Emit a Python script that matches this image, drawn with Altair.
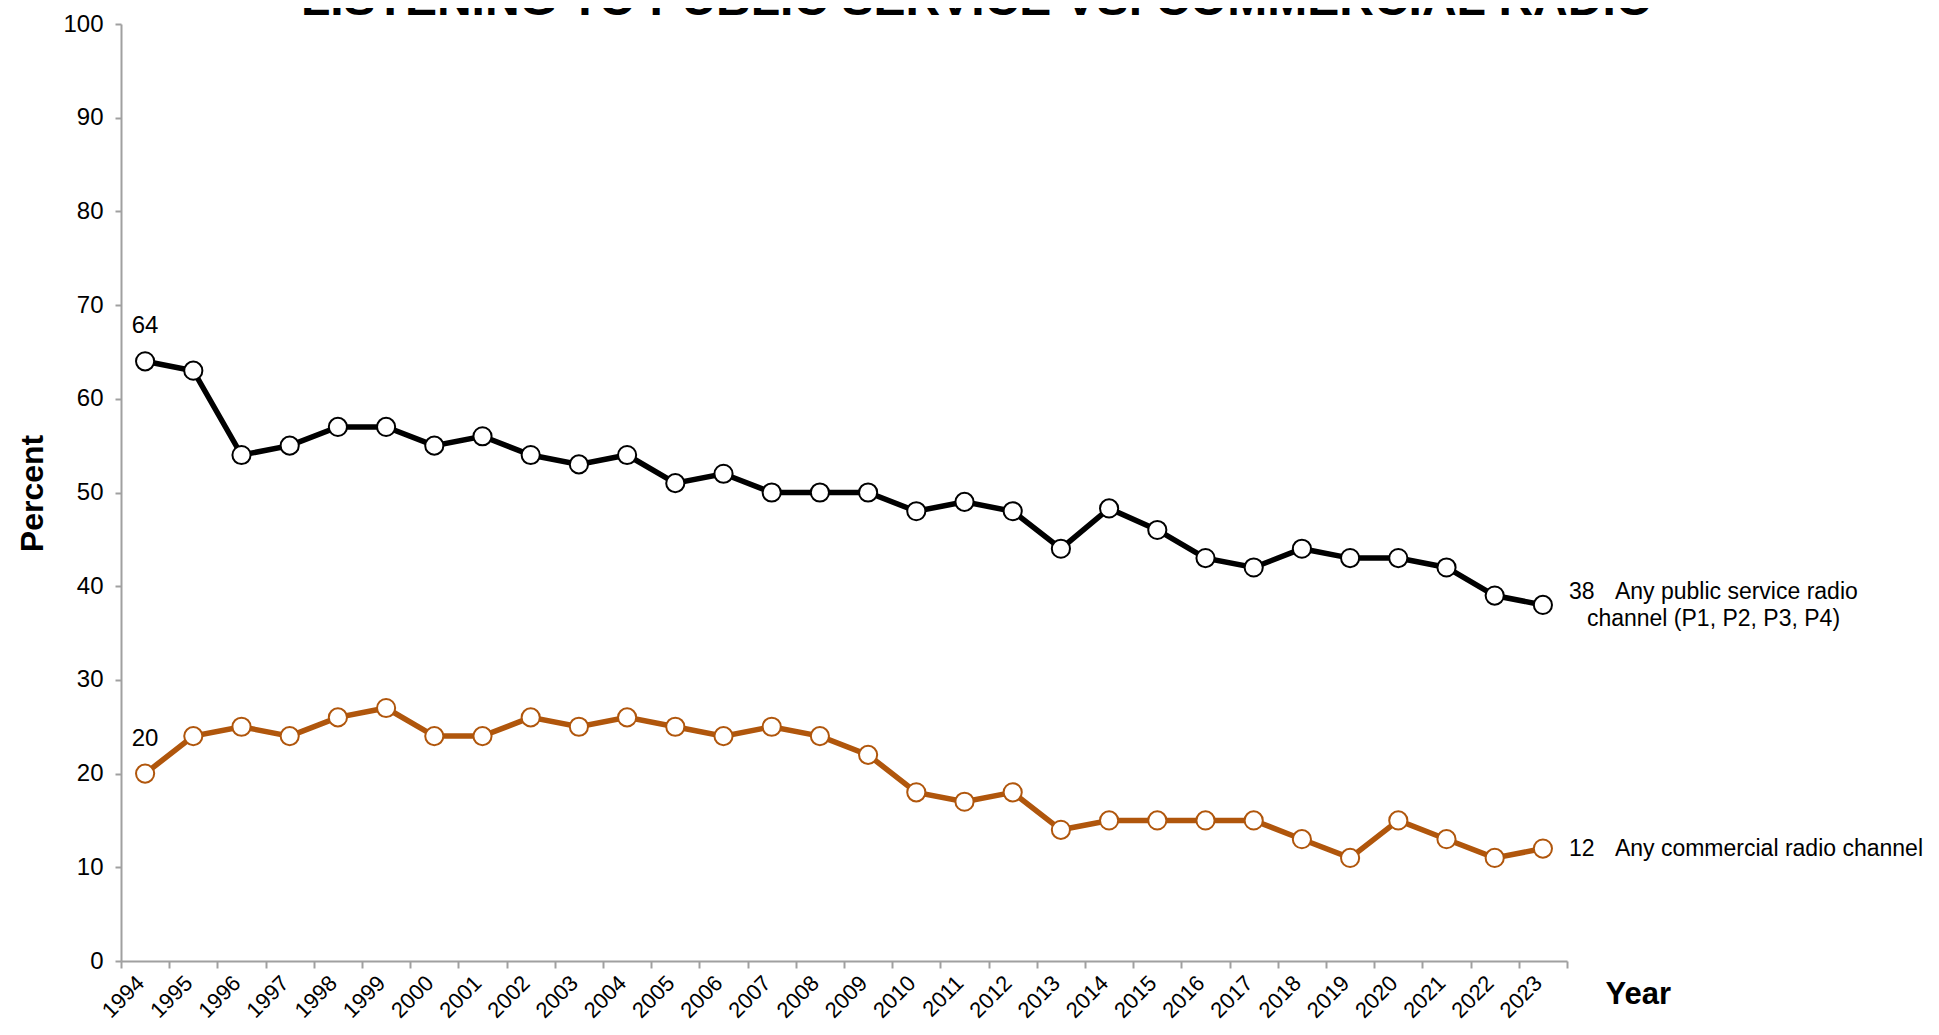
import altair as alt
import pandas as pd

years = list(range(1994, 2024))
public = [64, 63, 54, 55, 57, 57, 55, 56, 54, 53, 54, 51, 52, 50, 50, 50, 48, 49, 48, 44,
          48.3, 46, 43, 42, 44, 43, 43, 42, 39, 38]
commercial = [20, 24, 25, 24, 26, 27, 24, 24, 26, 25, 26, 25, 24, 25, 24, 22, 18, 17, 18, 14,
              15, 15, 15, 15, 13, 11, 15, 13, 11, 12]
series_names = ["Public service", "Commercial"]
series_colors = ["#000000", "#B0560C"]
title_text = "LISTENING TO PUBLIC SERVICE VS. COMMERCIAL RADIO"
y_ticks = list(range(0, 101, 10))

rows = []
for y, p, c in zip(years, public, commercial):
    rows.append({"year": y, "value": p, "series": series_names[0]})
    rows.append({"year": y, "value": c, "series": series_names[1]})
df = pd.DataFrame(rows)

FONT = "Liberation Sans, Arial, sans-serif"
NARROW = "'Liberation Sans Narrow', 'Arial Narrow', 'Liberation Sans', sans-serif"
AXC = "#A0A0A0"

xscale = alt.Scale(type="band", paddingInner=0, paddingOuter=0)
yscale = alt.Scale(domain=[0, 100], nice=False)

xaxis = alt.Axis(
    tickBand="extent", labelAngle=-45, labelFont=FONT, labelFontSize=22, labelColor="black",
    labelPadding=4, labelOffset=-12, tickSize=7, tickColor=AXC, tickWidth=2, domainColor=AXC,
    domainWidth=2, grid=False, title="Year", titleFont=FONT, titleFontSize=31,
    titleFontWeight="bold", titleColor="black", titleX=1484, titleY=42, titleAlign="left",
    titleBaseline="alphabetic", labelOverlap=False,
)
yaxis = alt.Axis(
    values=y_ticks, labelFont=FONT, labelFontSize=24, labelColor="black", labelPadding=12,
    tickSize=6, tickColor=AXC, tickWidth=2, domainColor=AXC, domainWidth=2, grid=False,
    title="Percent", titleFont=FONT, titleFontSize=32, titleFontWeight="bold", titleColor="black",
    titleX=-79, titleY=469, titleAngle=270, titleAlign="center", titleBaseline="alphabetic",
)

color = alt.Color("series:N", scale=alt.Scale(domain=series_names, range=series_colors), legend=None)
X = alt.X("year:O", scale=xscale, bandPosition=0.5, axis=xaxis)
Y = alt.Y("value:Q", scale=yscale, axis=yaxis)

base = alt.Chart(df)
lines = base.mark_line(strokeWidth=5.5).encode(x=X, y=Y, color=color, detail="series:N")
points = base.mark_point(shape="circle", filled=False, fill="white", fillOpacity=1, opacity=1,
                         size=330, strokeWidth=2).encode(x=X, y=Y, color=color)


def label(year, value, text, dx, dy, align, size=23):
    d = pd.DataFrame({"year": [year], "value": [value], "text": [text]})
    return alt.Chart(d).mark_text(font=FONT, fontSize=size, color="black", dx=dx, dy=dy,
                                  align=align, baseline="middle").encode(
        x=alt.X("year:O", scale=xscale, bandPosition=0.5),
        y=alt.Y("value:Q", scale=yscale),
        text="text:N",
    )


last = years[-1]
texts = [
    label(years[0], public[0], str(public[0]), 0, -35, "center", 24),
    label(years[0], commercial[0], str(commercial[0]), 0, -35, "center", 24),
    label(last, public[-1], str(public[-1]), 26, -13, "left"),
    label(last, public[-1], "Any public service radio", 72, -13, "left"),
    label(last, public[-1], "channel (P1, P2, P3, P4)", 44, 14, "left"),
    label(last, commercial[-1], str(commercial[-1]), 26, 0, "left"),
    label(last, commercial[-1], "Any commercial radio channel", 72, 0, "left"),
]

title_df = pd.DataFrame({"text": [title_text]})
title = alt.Chart(title_df).mark_text(
    font=NARROW, fontSize=48, fontWeight="bold", color="black", align="center",
    baseline="alphabetic",
).encode(x=alt.value(856), y=alt.value(-9), text="text:N")

chart = alt.layer(lines, points, *texts, title).properties(
    width=1446,
    height=937,
    autosize=alt.AutoSizeParams(type="none"),
    padding={"left": 113, "top": 16, "right": 362, "bottom": 61},
    background="white",
).configure_view(stroke=None)

chart.save("out.html", embed_options={"renderer": "svg", "actions": False})
